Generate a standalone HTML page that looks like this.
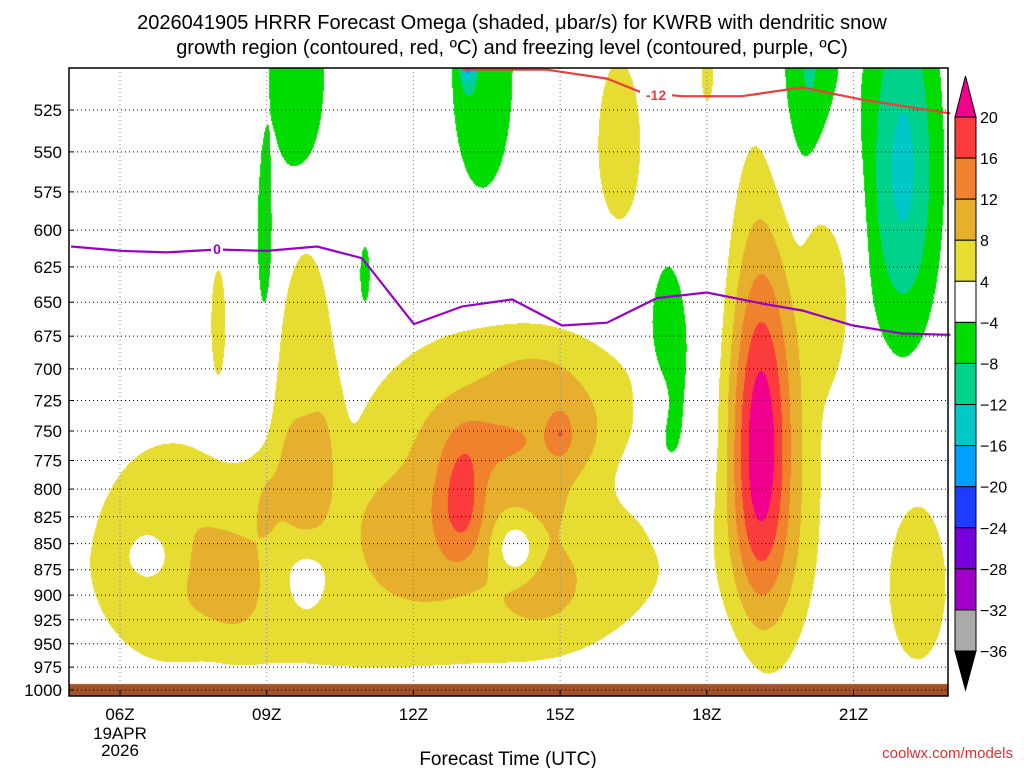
<!DOCTYPE html>
<html><head><meta charset="utf-8">
<style>
html,body{margin:0;padding:0;background:#fff;}
#wrap{position:relative;width:1024px;height:768px;overflow:hidden;font-family:"Liberation Sans","DejaVu Sans",sans-serif;}
canvas{position:absolute;left:0;top:0;}
svg{position:absolute;left:0;top:0;}
</style></head>
<body>
<div id="wrap">
<canvas id="field" width="1024" height="768"></canvas>
<svg id="svg" width="1024" height="768"></svg>
</div>
<script>
// ---- data ----
const levels = [525,550,575,600,625,650,675,700,725,750,775,800,825,850,875,900,925,950,975,1000];
const timeTicks = [6,9,12,15,18,21];
const timeLabels = ["06Z","09Z","12Z","15Z","18Z","21Z"];
const cbValues = [20,16,12,8,4,-4,-8,-12,-16,-20,-24,-28,-32,-36];
const cbColors = ["#f0008c","#fa3c3c","#f0822d","#e6af2d","#e6dc32","#ffffff","#00dc00","#00d28c","#00c8c8","#00a0ff","#1e3cff","#7800dc","#a000c8","#aaaaaa","#000000"];
// omega features (hour, pressure hPa, sigma hour, sigma hPa, amplitude ubar/s, shape)
const blobHour = [11.3,14.0,9.8,6.6,9.8,14.1,8.3,9.0,12.1,14.5,14.6,13.0,12.9,15.0,19.4,19.1,20.6,16.2,18.0,8.0,22.3,9.6,8.95,13.4,17.2,11.0,20.0,22.0,13.1,6.8];
const blobPres = [870,720,720,862,880,855,890,810,840,760,890,805,800,752,740,760,620,545,505,665,890,500,600,500,710,630,510,560,495,850];
const blobSigH = [6.0,2.6,0.6,0.4,0.35,0.3,0.5,0.2,1.1,1.2,0.8,0.3,0.5,0.15,0.95,0.42,0.5,0.45,0.12,0.15,0.6,0.55,0.15,0.6,0.45,0.1,0.5,0.55,0.1,1.0];
const blobSigP = [110,55,110,22,28,20,45,25,60,65,40,35,50,12,220,95,80,50,15,40,80,60,55,70,90,20,60,85,10,120];
const blobAmp = [6,6,6,-5,-4,-7,4,3,4,4,4,7,3,5,6,17,5,6,6,6,6,-7,-6,-7,-6,-6,-10,-13,-14,2.5];
const blobShape = [2,2,2,1,1,1,1,1,2,2,1,1,1,1,2,1,2,2,2,2,2,2,2,2,2,2,1,1,1,2];
// freezing level (0C) pressure by hour
const frzHour = [5.0,6.04,6.96,7.99,9.0,10.03,10.95,12.01,13.0,14.02,15.04,15.96,16.98,18.0,19.13,19.95,20.99,21.99,22.98];
const frzPres = [611,614,615,613,614,611,619,666,653,648,667,665,647,643,651,656,667,673,674];
// -12C dendritic contour
const dgzHour = [13.0,14.73,15.96,16.68,17.5,18.72,19.95,21.18,22.98];
const dgzPres = [502,502,507,515,517,517,512,519,527];

// ---- axes ----
const X0=69,X1=948,Y0=68,Y1=684;
const xOf = h => 120 + (h-6)*48.9;
const hOf = x => 6 + (x-120)/48.9;
const yOf = p => 110 + 900*Math.log(p/525);
const pOf = y => 525*Math.exp((y-110)/900);

function field(h,p){
  let s=0;
  for(let i=0;i<blobHour.length;i++){
    const dh=(h-blobHour[i])/blobSigH[i], dp=(p-blobPres[i])/blobSigP[i];
    const d2=dh*dh+dp*dp;
    if(d2>40) continue;
    s+=blobAmp[i]*Math.exp(-Math.pow(d2,blobShape[i])/2);
  }
  return s;
}
function colorFor(v){
  if(v>20) return cbColors[0];
  if(v>16) return cbColors[1];
  if(v>12) return cbColors[2];
  if(v>8) return cbColors[3];
  if(v>4) return cbColors[4];
  if(v>-4) return null;
  if(v>-8) return cbColors[6];
  if(v>-12) return cbColors[7];
  if(v>-16) return cbColors[8];
  if(v>-20) return cbColors[9];
  if(v>-24) return cbColors[10];
  if(v>-28) return cbColors[11];
  if(v>-32) return cbColors[12];
  if(v>-36) return cbColors[13];
  return cbColors[14];
}
function hex(c){return [parseInt(c.substr(1,2),16),parseInt(c.substr(3,2),16),parseInt(c.substr(5,2),16)];}
const cv=document.getElementById('field'), ctx=cv.getContext('2d');
const img=ctx.createImageData(1024,768);
for(let i=0;i<img.data.length;i+=4){img.data[i]=255;img.data[i+1]=255;img.data[i+2]=255;img.data[i+3]=255;}
for(let y=Y0;y<Y1;y++){
  const p=pOf(y);
  for(let x=X0;x<X1;x++){
    const c=colorFor(field(hOf(x),p));
    if(!c) continue;
    const rgb=hex(c), k=(y*1024+x)*4;
    img.data[k]=rgb[0];img.data[k+1]=rgb[1];img.data[k+2]=rgb[2];
  }
}
ctx.putImageData(img,0,0);
ctx.fillStyle="#a0522d";ctx.fillRect(X0,Y1,X1-X0,12);

// ---- svg ----
const NS="http://www.w3.org/2000/svg", svg=document.getElementById('svg');
function mk(tag,attrs,parent){const e=document.createElementNS(NS,tag);for(const k in attrs)e.setAttribute(k,attrs[k]);(parent||svg).appendChild(e);return e;}
function txt(x,y,s,attrs,parent){const e=mk('text',Object.assign({x:x,y:y,'font-family':'"Liberation Sans","DejaVu Sans",sans-serif'},attrs),parent);e.textContent=s;return e;}

const grid=mk('g',{});


levels.forEach(p=>{
  const y=yOf(p);
  const l=mk('line',{x1:X0,x2:X1,y1:y,y2:y,stroke:'#000','stroke-width':1,'stroke-dasharray':'1,3'},grid);
  
  
  const t=txt(62,y+6,String(p),{'font-size':17,'text-anchor':'end',fill:'#000'});
  
  
  const tk=mk('line',{x1:X0,x2:X0+5,y1:y,y2:y,stroke:'#000'});
  
  
});
timeTicks.forEach((h,i)=>{
  const x=xOf(h);
  const l=mk('line',{x1:x,x2:x,y1:Y0,y2:Y1,stroke:'#888','stroke-width':1,'stroke-dasharray':'1,3'},grid);
  
  
  const t=txt(x,720,timeLabels[i],{'font-size':17,'text-anchor':'middle',fill:'#000'});
  
  
  const tk=mk('line',{x1:x,x2:x,y1:696,y2:690,stroke:'#000'});
  
  
});
const d1=txt(xOf(6),739,'19APR',{'font-size':17,'text-anchor':'middle'});


const d2=txt(xOf(6),756,'2026',{'font-size':17,'text-anchor':'middle'});



function linePath(hs,ps){return hs.map((h,i)=>(i?'L':'M')+xOf(h).toFixed(1)+','+yOf(ps[i]).toFixed(1)).join(' ');}
const fz=mk('path',{d:linePath(frzHour,frzPres),fill:'none',stroke:'#9900cc','stroke-width':2.2});


const dz=mk('path',{d:linePath(dgzHour,dgzPres),fill:'none',stroke:'#f03c3c','stroke-width':2.2});


mk('rect',{x:640,y:86,width:32,height:16,fill:'#fff'});
const l12=txt(656,100,'-12',{'font-size':14,'font-weight':'bold','text-anchor':'middle',fill:'#f03c3c'});


mk('rect',{x:211,y:241,width:12,height:15,fill:'#fff'});
const l0=txt(217,254,'0',{'font-size':14,'font-weight':'bold','text-anchor':'middle',fill:'#9900cc'});



const frame=mk('rect',{x:X0,y:Y0,width:X1-X0,height:696-Y0,fill:'none',stroke:'#000','stroke-width':1.5});



// colorbar
const cbX=955,cbW=21,cbTop=117,cbStep=(651-117)/13;
const cb=mk('g',{});


const tri=mk('polygon',{points:`${cbX},${cbTop} ${cbX+cbW},${cbTop} ${cbX+cbW/2},76`,fill:cbColors[0],stroke:'#000'},cb);


for(let i=0;i<13;i++){
  const r=mk('rect',{x:cbX,y:cbTop+i*cbStep,width:cbW,height:cbStep,fill:cbColors[i+1],stroke:'#000'},cb);
  
  
}
const tri2=mk('polygon',{points:`${cbX},651 ${cbX+cbW},651 ${cbX+cbW/2},690`,fill:'#000',stroke:'#000'},cb);


cbValues.forEach((v,i)=>{
  const t=txt(980,cbTop+i*cbStep+6,(v<0?'\u2212'+(-v):String(v)),{'font-size':16},cb);
  
  
});

const t1=txt(512,29,'2026041905 HRRR Forecast Omega (shaded, \u03bcbar/s) for KWRB with dendritic snow',{'font-size':20,'text-anchor':'middle'});


const t2=txt(512,54,'growth region (contoured, red, \u00baC) and freezing level (contoured, purple, \u00baC)',{'font-size':20,'text-anchor':'middle'});


const xt=txt(508,765,'Forecast Time (UTC)',{'font-size':19,'text-anchor':'middle'});


const cr=txt(1013,758,'coolwx.com/models',{'font-size':15,'text-anchor':'end',fill:'#e03030'});


</script>
</body></html>
